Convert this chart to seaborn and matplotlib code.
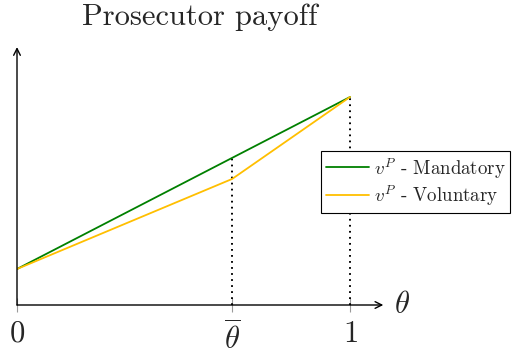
import matplotlib
matplotlib.use("Agg")
import numpy as np
import pandas as pd
import seaborn as sns
import matplotlib.pyplot as plt

# Payoff curves over theta
theta_bar = 0.646
theta_mand = [0.0, 1.0]
payoff_mand = [0.173, 1.0]
theta_vol = [0.0, theta_bar, 1.0]
payoff_vol = [0.173, 0.606, 1.0]
tick_pos = [0.0, theta_bar, 1.0]
tick_labels = ["$0$", r"$\overline{\theta}$", "$1$"]
series_names = [r"$v^P$ - Mandatory", r"$v^P$ - Voluntary"]
colors = ["#008000", "#FFBF00"]

sns.set_style("white")
plt.rcParams["font.family"] = ["cmr10", "DejaVu Serif"]
plt.rcParams["mathtext.fontset"] = "cm"
plt.rcParams["axes.unicode_minus"] = False
plt.rcParams["axes.formatter.use_mathtext"] = True

W, H = 514, 356
fig = plt.figure(figsize=(W / 100, H / 100), dpi=100)
x0, y0 = 17, 305
sx, sy = 333, 208
xmax, ymax = 1.1, 1.24
ax = fig.add_axes([x0 / W, (H - y0) / H, xmax * sx / W, ymax * sy / H])
ax.set_xlim(0, xmax)
ax.set_ylim(0, ymax)
for s in ax.spines.values():
    s.set_visible(False)

df = pd.concat([
    pd.DataFrame({"theta": theta_mand, "payoff": payoff_mand, "series": series_names[0]}),
    pd.DataFrame({"theta": theta_vol, "payoff": payoff_vol, "series": series_names[1]}),
], ignore_index=True)

sns.lineplot(data=df, x="theta", y="payoff", hue="series", palette=colors,
             sort=False, lw=1.3, ax=ax, legend=False, zorder=3)

# dotted guides up to the curves
g_at_bar = np.interp(theta_bar, theta_mand, payoff_mand)
dot = dict(color="black", lw=1.4, linestyle=(0, (0.9, 2.2)), zorder=2)
ax.plot([theta_bar, theta_bar], [0, g_at_bar], **dot)
ax.plot([1, 1], [0, payoff_mand[-1]], **dot)

# arrowed axes
arrow = dict(arrowstyle="->", color="black", lw=1.0, shrinkA=0, shrinkB=0,
             mutation_scale=12)
ax.annotate("", xy=(xmax, 0), xytext=(0, 0), arrowprops=arrow,
            annotation_clip=False, zorder=4)
ax.annotate("", xy=(0, ymax), xytext=(0, 0), arrowprops=arrow,
            annotation_clip=False, zorder=4)

ax.set_xticks(tick_pos, tick_labels)
ax.set_yticks([])
ax.tick_params(axis="x", bottom=True, direction="inout", length=10, width=0.8,
               color="#9a9a9a", labelsize=22, pad=6)
ax.set_xlabel("")
ax.set_ylabel("")

ax.text(1.155, 0.0, r"$\theta$", fontsize=22, ha="center", va="center")

fig.text(200 / W, 1 - 17 / H, "Prosecutor payoff", ha="center", va="center",
         fontsize=22)

handles = ax.get_lines()[:2]
leg = ax.legend(handles, series_names, loc="upper left",
                bbox_to_anchor=(321 / W, 1 - 151 / H), bbox_transform=fig.transFigure,
                borderaxespad=0, fontsize=13.6, handlelength=2.3, handletextpad=0.25,
                frameon=True, fancybox=False, edgecolor="black", framealpha=1,
                borderpad=0.25, labelspacing=0.15)
leg.get_frame().set_linewidth(0.8)

fig.savefig("out.png", dpi=100)
